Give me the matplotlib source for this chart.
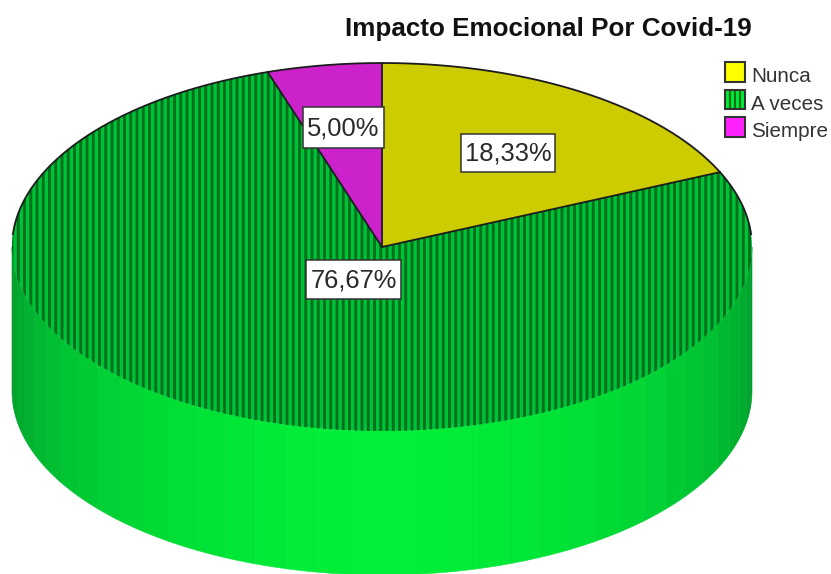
import numpy as np
import matplotlib
matplotlib.use("Agg")
import matplotlib.pyplot as plt
from matplotlib.patches import Polygon, Rectangle

plt.rcParams['font.family'] = ['Liberation Sans', 'DejaVu Sans']

# Survey shares, clockwise from twelve o'clock
categories = ["Nunca", "A veces", "Siempre"]
percentages = [18.33, 76.67, 5.00]
labels = ["18,33%", "76,67%", "5,00%"]
title = "Impacto Emocional Por Covid-19"

top_colors = ["#cccc00", "#00c236", "#cc22cc"]
legend_colors = ["#ffff00", "#00ee33", "#ff22ff"]
stripe_color = "#00701e"
outline = "#1c1c1c"

W, H = 831, 574
CX, CY, RX, RY, DEPTH = 382, 247, 370, 184, 144
STRIPE_STEP = 6.25
STRIPE_WIDTH = 2.1

fig = plt.figure(figsize=(W / 100, H / 100), dpi=100)
ax = fig.add_axes([0, 0, 1, 1])
ax.set_xlim(0, W)
ax.set_ylim(H, 0)
ax.axis("off")


def rim(theta):
    """Point on the top ellipse; theta runs clockwise from twelve o'clock."""
    return CX + RX * np.sin(theta), CY - RY * np.cos(theta)


# Cylinder wall: lower half of the ellipse, shaded in bands
band_edges = np.linspace(np.pi / 2, 3 * np.pi / 2, 37)
for a0, a1 in zip(band_edges[:-1], band_edges[1:]):
    t = np.linspace(a0, a1, 8)
    x, y = rim(t)
    pts = np.r_[np.c_[x, y], np.c_[x[::-1], y[::-1] + DEPTH]]
    mid = np.abs((a0 + a1) / 2 - np.pi) / (np.pi / 2)
    shade = np.clip(1 - mid ** 1.6, 0, 1)
    color = (0, 0.60 + 0.34 * shade, 0.17 + 0.05 * shade)
    ax.add_patch(Polygon(pts, closed=True, fc=color, ec=color, lw=0.4, zorder=1))

# Top face wedges computed from the percentages; only the far rim and the
# radial edges carry an outline
bounds = 2 * np.pi * np.r_[0, np.cumsum(percentages)] / sum(percentages)
for i, (a0, a1) in enumerate(zip(bounds[:-1], bounds[1:])):
    t = np.linspace(a0, a1, 240)
    x, y = rim(t)
    pts = np.r_[[[CX, CY]], np.c_[x, y]]
    wedge = Polygon(pts, closed=True, fc=top_colors[i], ec="none", zorder=2)
    ax.add_patch(wedge)
    if categories[i] == "A veces":
        stripes = ax.vlines(np.arange(CX - RX, CX + RX, STRIPE_STEP), 0, H,
                            color=stripe_color, lw=STRIPE_WIDTH, zorder=3)
        stripes.set_snap(False)
        stripes.set_clip_path(wedge)

for edge in bounds[:-1]:
    ex, ey = rim(edge)
    ax.plot([CX, ex], [CY, ey], color=outline, lw=1.3, zorder=4)
t = np.radians(np.linspace(-86, 86, 400))
ax.plot(*rim(t), color=outline, lw=1.3, zorder=4)

# Value labels in white boxes
label_boxes = [(461, 134, 94, 38), (306, 260, 95, 39), (303, 107, 81, 41)]
for text, (bx, by, bw, bh) in zip(labels, label_boxes):
    ax.add_patch(Rectangle((bx, by), bw, bh, fc="white", ec="#333333", lw=1.1, zorder=5))
    ax.text(bx + bw / 2, by + bh / 2 + 1, text, ha="center", va="center",
            fontsize=18.4, color="#2a2a2a", zorder=6)

# Legend swatches
for i, (name, col) in enumerate(zip(categories, legend_colors)):
    y = 62 + 27.5 * i
    swatch = Rectangle((725, y), 20, 19.5, fc=col, ec="none", zorder=5)
    ax.add_patch(swatch)
    if name == "A veces":
        bars = ax.vlines(np.arange(730, 745, 5), y, y + 19.5, color=stripe_color,
                         lw=1.6, zorder=5)
        bars.set_clip_path(swatch)
    ax.add_patch(Rectangle((725, y), 20, 19.5, fc="none", ec="#333333", lw=1.5, zorder=5))
    ax.text(751, y + 20, name, ha="left", va="baseline", fontsize=14.9, color="#333333")

ax.text(548.5, 29, title, ha="center", va="center", fontsize=18.75, fontweight="bold",
        color="#111111")

fig.savefig("out.png", dpi=100)
